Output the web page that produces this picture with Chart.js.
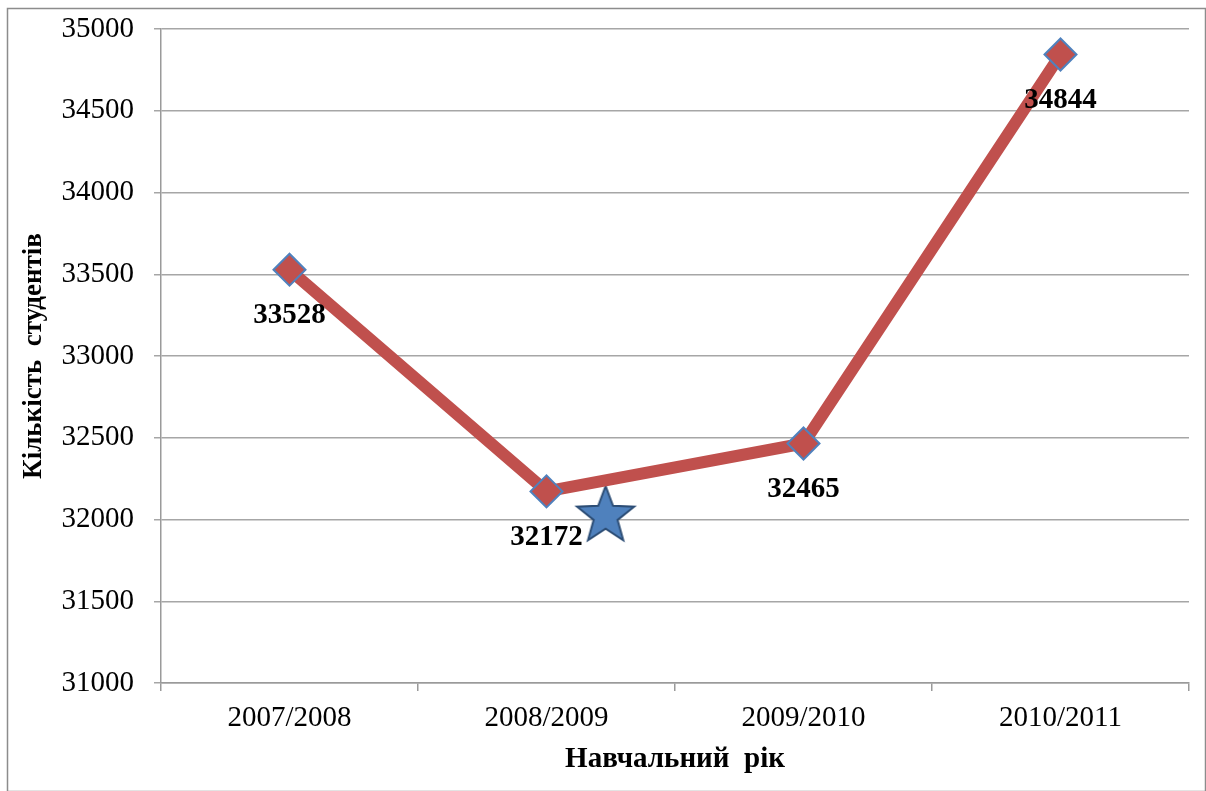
<!DOCTYPE html>
<html>
<head>
<meta charset="utf-8">
<script src="https://cdn.jsdelivr.net/npm/chart.js@4/dist/chart.umd.min.js"></script>
<style>
  html, body { margin: 0; padding: 0; background: #fff; }
  #wrap { width: 1206px; height: 791px; }
</style>
</head>
<body>
<div id="wrap"><canvas id="chart"></canvas></div>
<script>
// дані
const years = ['2007/2008', '2008/2009', '2009/2010', '2010/2011'];
const students = [33528, 32172, 32465, 34844];
const starX = [1.23];
const starY = [32040];
const yTicks = [31000, 31500, 32000, 32500, 33000, 33500, 34000, 34500, 35000];

const RED = '#C0504D';
const BLUE = '#4F81BD';
const FONT = "'Liberation Serif', 'Times New Roman', serif";

// зірка як картинка для pointStyle
function makeStar(r) {
    const c = document.createElement('canvas');
    const s = Math.ceil(r * 2 + 6);
    c.width = s; c.height = s;
    const g = c.getContext('2d');
    const cx = s / 2, cy = s / 2 + r * 0.1;
    g.beginPath();
    for (let i = 0; i < 10; i++) {
        const rr = i % 2 === 0 ? r : r * 0.42;
        const a = -Math.PI / 2 + i * Math.PI / 5;
        g.lineTo(cx + rr * Math.cos(a), cy + rr * Math.sin(a));
    }
    g.closePath();
    g.fillStyle = BLUE;
    g.fill();
    g.lineWidth = 2;
    g.strokeStyle = '#2C4D75';
    g.stroke();
    return c;
}

// рамка навколо діаграми
const framePlugin = {
    id: 'frame',
    beforeDraw(chart) {
        const ctx = chart.ctx;
        ctx.save();
        ctx.fillStyle = '#fff';
        ctx.fillRect(0, 0, chart.width, chart.height);
        ctx.strokeStyle = '#8c8c8c';
        ctx.lineWidth = 1.5;
        ctx.strokeRect(7.5, 8.5, chart.width - 8, chart.height - 8);
        ctx.restore();
    }
};

// підписи значень під точками
const labelPlugin = {
    id: 'valueLabels',
    afterDatasetsDraw(chart) {
        const ctx = chart.ctx;
        const meta = chart.getDatasetMeta(0);
        ctx.save();
        ctx.font = 'bold 29px ' + FONT;
        ctx.fillStyle = '#000';
        ctx.textAlign = 'center';
        ctx.textBaseline = 'middle';
        meta.data.forEach((pt, i) => {
            ctx.fillText(String(students[i]), pt.x, pt.y + 46);
        });
        ctx.restore();
    }
};

new Chart(document.getElementById('chart'), {
    type: 'line',
    data: {
        labels: years,
        datasets: [{
            data: students,
            borderColor: RED,
            borderWidth: 12,
            pointStyle: 'rectRot',
            pointRadius: 16,
            pointBackgroundColor: RED,
            pointBorderColor: BLUE,
            pointBorderWidth: 2,
            tension: 0
        }, {
            type: 'scatter',
            xAxisID: 'x2',
            data: starX.map((x, i) => ({ x: x, y: starY[i] })),
            pointStyle: makeStar(30),
            pointRadius: 30
        }]
    },
    options: {
        responsive: true,
        maintainAspectRatio: false,
        animation: false,
        layout: { autoPadding: false, padding: { left: 14, top: 0, right: 17, bottom: 10 } },
        plugins: { legend: { display: false }, tooltip: { enabled: false } },
        scales: {
            x: {
                offset: true,
                afterFit(axis) { axis.height = 98; },
                grid: { offset: true, drawOnChartArea: false, tickLength: 8, color: '#9a9a9a', lineWidth: 1.5 },
                border: { color: '#9a9a9a', width: 1.5 },
                ticks: { color: '#000', font: { family: FONT, size: 29 }, padding: 10 },
                title: { display: true, text: 'Навчальний  рік', color: '#000', font: { family: FONT, size: 29, weight: 'bold' }, padding: { top: 2 } }
            },
            x2: {
                type: 'linear', display: false, min: -0.5, max: 3.5
            },
            y: {
                min: 31000,
                max: 35000,
                afterBuildTicks(axis) { axis.ticks = yTicks.map(v => ({ value: v })); },
                afterFit(axis) { axis.width = 147; axis.paddingTop = 29; axis.paddingBottom = 20; },
                grid: { color: '#a6a6a6', lineWidth: 1.5, tickLength: 7 },
                border: { color: '#9a9a9a', width: 1.5 },
                ticks: { color: '#000', font: { family: FONT, size: 29 }, padding: 20, callback: v => String(v) },
                title: { display: true, text: 'Кількість  студентів', color: '#000', font: { family: FONT, size: 27, weight: 'bold' }, padding: { bottom: 4 } }
            }
        }
    },
    plugins: [framePlugin, labelPlugin]
});
</script>
</body>
</html>
